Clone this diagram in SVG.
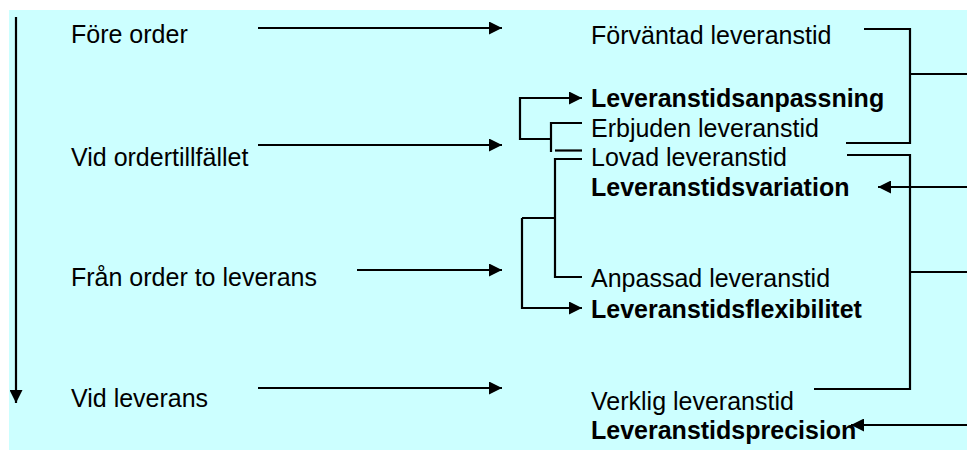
<svg xmlns="http://www.w3.org/2000/svg" width="967" height="450" viewBox="0 0 967 450">
<style>
text{font-family:"Liberation Sans",Arial,sans-serif;font-size:25px;fill:#000}
.b{font-weight:bold}
.ln{fill:none;stroke:#000;stroke-width:2.2}
</style>
<defs>
<marker id="ah" markerUnits="userSpaceOnUse" markerWidth="13" markerHeight="13" refX="13" refY="6.5" orient="auto">
<path d="M0,0 L13,6.5 L0,13 z" fill="#000"/>
</marker>
</defs>
<rect x="9" y="10" width="958" height="440" fill="#CCFFFF"/>
<g id="connectors">
<line class="ln" x1="16" y1="17" x2="16" y2="403" marker-end="url(#ah)"/>
<line class="ln" x1="258" y1="28" x2="502" y2="28" marker-end="url(#ah)"/>
<line class="ln" x1="258" y1="145" x2="502" y2="145" marker-end="url(#ah)"/>
<line class="ln" x1="357" y1="270" x2="502" y2="270" marker-end="url(#ah)"/>
<line class="ln" x1="258" y1="388" x2="502" y2="388" marker-end="url(#ah)"/>
<polyline class="ln" points="864,29 910,29 910,143 846,143"/>
<line class="ln" x1="910" y1="74" x2="967" y2="74"/>
<polyline class="ln" points="847,155 910,155 910,389 814,389"/>
<line class="ln" x1="910" y1="272" x2="967" y2="272"/>
<line class="ln" x1="967" y1="187" x2="878" y2="187" marker-end="url(#ah)"/>
<line class="ln" x1="967" y1="425" x2="851" y2="425" marker-end="url(#ah)"/>
<polyline class="ln" points="551,139 520,139 520,98 582,98" marker-end="url(#ah)"/>
<polyline class="ln" points="582,123 551,123 551,152"/>
<line class="ln" x1="555" y1="150.5" x2="582" y2="150.5"/>
<polyline class="ln" points="582,159 555,159 555,277 582,277"/>
<line class="ln" x1="522" y1="218" x2="555" y2="218"/>
<polyline class="ln" points="522,218 522,308 582,308" marker-end="url(#ah)"/>
</g>
<g id="fore-order"><text x="71" y="43">Före order</text></g>
<g id="vid-ordertillfallet"><text x="71" y="166">Vid ordertillfället</text></g>
<g id="fran-order"><text x="71" y="286">Från order to leverans</text></g>
<g id="vid-leverans"><text x="71" y="407">Vid leverans</text></g>
<g id="forvantad"><text x="591" y="44">Förväntad leveranstid</text></g>
<g id="anpassning"><text class="b" x="591" y="107">Leveranstidsanpassning</text></g>
<g id="erbjuden"><text x="591" y="137">Erbjuden leveranstid</text></g>
<g id="lovad"><text x="591" y="166">Lovad leveranstid</text></g>
<g id="variation"><text class="b" x="591" y="196">Leveranstidsvariation</text></g>
<g id="anpassad"><text x="591" y="287">Anpassad leveranstid</text></g>
<g id="flexibilitet"><text class="b" x="591" y="318">Leveranstidsflexibilitet</text></g>
<g id="verklig"><text x="591" y="410">Verklig leveranstid</text></g>
<g id="precision"><text class="b" x="591" y="439">Leveranstidsprecision</text></g>
</svg>
